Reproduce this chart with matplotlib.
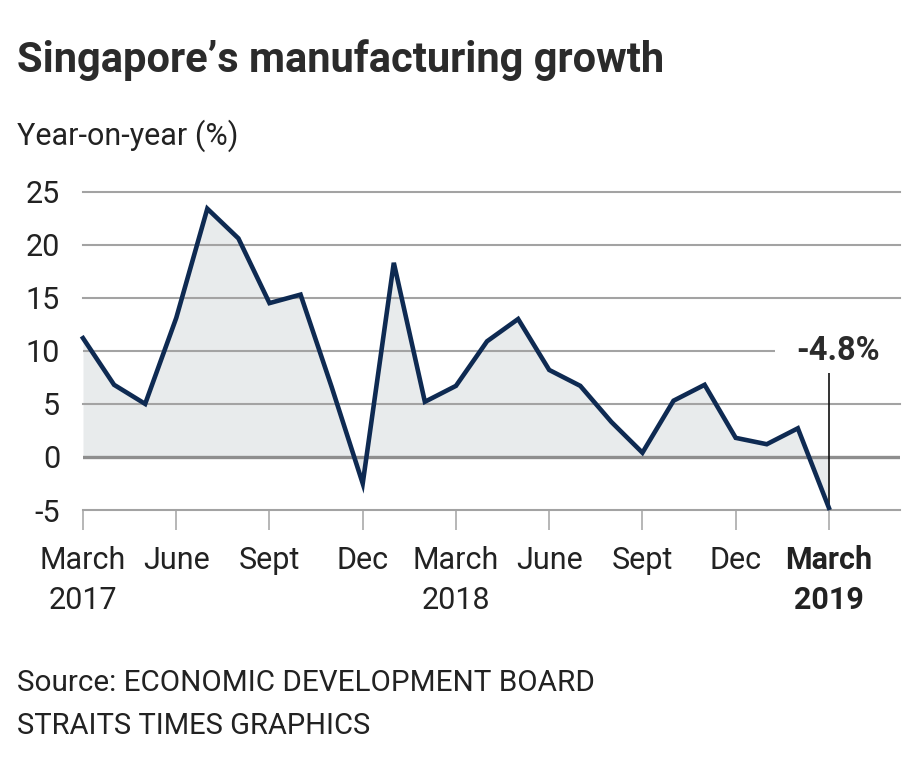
import matplotlib
matplotlib.use("Agg")
import matplotlib.pyplot as plt
from matplotlib.transforms import blended_transform_factory

# ---- data ----
months = ["Mar17", "Apr17", "May17", "Jun17", "Jul17", "Aug17", "Sep17", "Oct17",
          "Nov17", "Dec17", "Jan18", "Feb18", "Mar18", "Apr18", "May18", "Jun18",
          "Jul18", "Aug18", "Sep18", "Oct18", "Nov18", "Dec18", "Jan19", "Feb19", "Mar19"]
growth = [11.2, 6.8, 5.0, 13.1, 23.4, 20.6, 14.5, 15.3, 6.6, -2.5, 18.3, 5.2, 6.7,
          10.9, 13.0, 8.2, 6.7, 3.3, 0.4, 5.3, 6.8, 1.8, 1.2, 2.7, -4.8]
tick_months = ["March", "June", "Sept", "Dec", "March", "June", "Sept", "Dec", "March"]
tick_years = ["2017", "", "", "", "2018", "", "", "", "2019"]
y_ticks = [25, 20, 15, 10, 5, 0, -5]

FONT = "Roboto"
TXT = "#222222"
GRID = "#a3a3a3"
LINE = "#0e2a52"
FILL = "#e8ebec"

W, H = 920, 768
fig = plt.figure(figsize=(W / 100, H / 100), dpi=100)
fig.patch.set_facecolor("white")

# axes placement (pixels)
x0_px, px_per_month = 83, 31.08
y_top_px, y_bot_px = 191.7, 510.0
xmax = 26.3
ax = fig.add_axes([x0_px / W, 1 - y_bot_px / H, xmax * px_per_month / W, (y_bot_px - y_top_px) / H])
ax.set_xlim(0, xmax)
ax.set_ylim(-5, 25)
for s in ax.spines.values():
    s.set_visible(False)
ax.set_facecolor("none")

x = list(range(len(growth)))

# gridlines
for v in y_ticks:
    if v == 0:
        ax.axhline(0, color="#8e8e8e", lw=2.4, zorder=1)
    elif v == 10:
        ax.plot([0, 22.27], [10, 10], color=GRID, lw=1.5, zorder=1, solid_capstyle="butt")
    else:
        ax.axhline(v, color=GRID, lw=1.5, zorder=1, clip_on=False)

ax.fill_between(x, growth, 0, color=FILL, lw=0, zorder=0.5)
ax.plot(x, growth, color=LINE, lw=3.3, solid_joinstyle="miter", zorder=3, clip_on=False)

# annotation of last value
ax.vlines(x[-1], growth[-1], 7.95, color="#111111", lw=1.2, zorder=2)
ax.text(x[-1] + 0.3, 9.16, f"{growth[-1]}%", ha="center", va="baseline",
        fontsize=23.5, fontweight="bold", family=FONT, color="#2b2b2b")

# ticks
tick_pos = list(range(0, len(growth), 3))
ax.set_xticks(tick_pos)
ax.set_xticklabels([])
ax.tick_params(axis="x", length=14.4, width=1.1, color=GRID, direction="out")
ax.set_yticks(y_ticks)
ax.set_yticklabels([str(v) for v in y_ticks], fontsize=22, family=FONT, color=TXT)
ax.tick_params(axis="y", length=0, pad=16.5)

trans = blended_transform_factory(ax.transData, fig.transFigure)
for i, (p, m, yr) in enumerate(zip(tick_pos, tick_months, tick_years)):
    bold = (i == len(tick_pos) - 1)
    w = "bold" if bold else "normal"
    ax.text(p, 1 - 569 / H, m, transform=trans, ha="center", va="baseline",
            fontsize=22, family=FONT, fontweight=w, color=TXT, clip_on=False)
    if yr:
        ax.text(p, 1 - 609 / H, yr, transform=trans, ha="center", va="baseline",
                fontsize=22, family=FONT, fontweight=w, color=TXT, clip_on=False)

# titles and notes
fig.text(17 / W, 1 - 72 / H, "Singapore\u2019s manufacturing growth", ha="left", va="baseline",
         fontsize=30, fontweight="bold", family=FONT, color="#2b2b2b")
fig.text(17 / W, 1 - 145 / H, "Year-on-year (%)", ha="left", va="baseline",
         fontsize=22, family=FONT, color=TXT)
fig.text(17 / W, 1 - 691 / H, "Source: ECONOMIC DEVELOPMENT BOARD", ha="left", va="baseline",
         fontsize=21.3, family=FONT, color=TXT)
fig.text(17 / W, 1 - 734 / H, "STRAITS TIMES GRAPHICS", ha="left", va="baseline",
         fontsize=21, family=FONT, color=TXT)

fig.savefig("out.png", dpi=100, facecolor="white")
